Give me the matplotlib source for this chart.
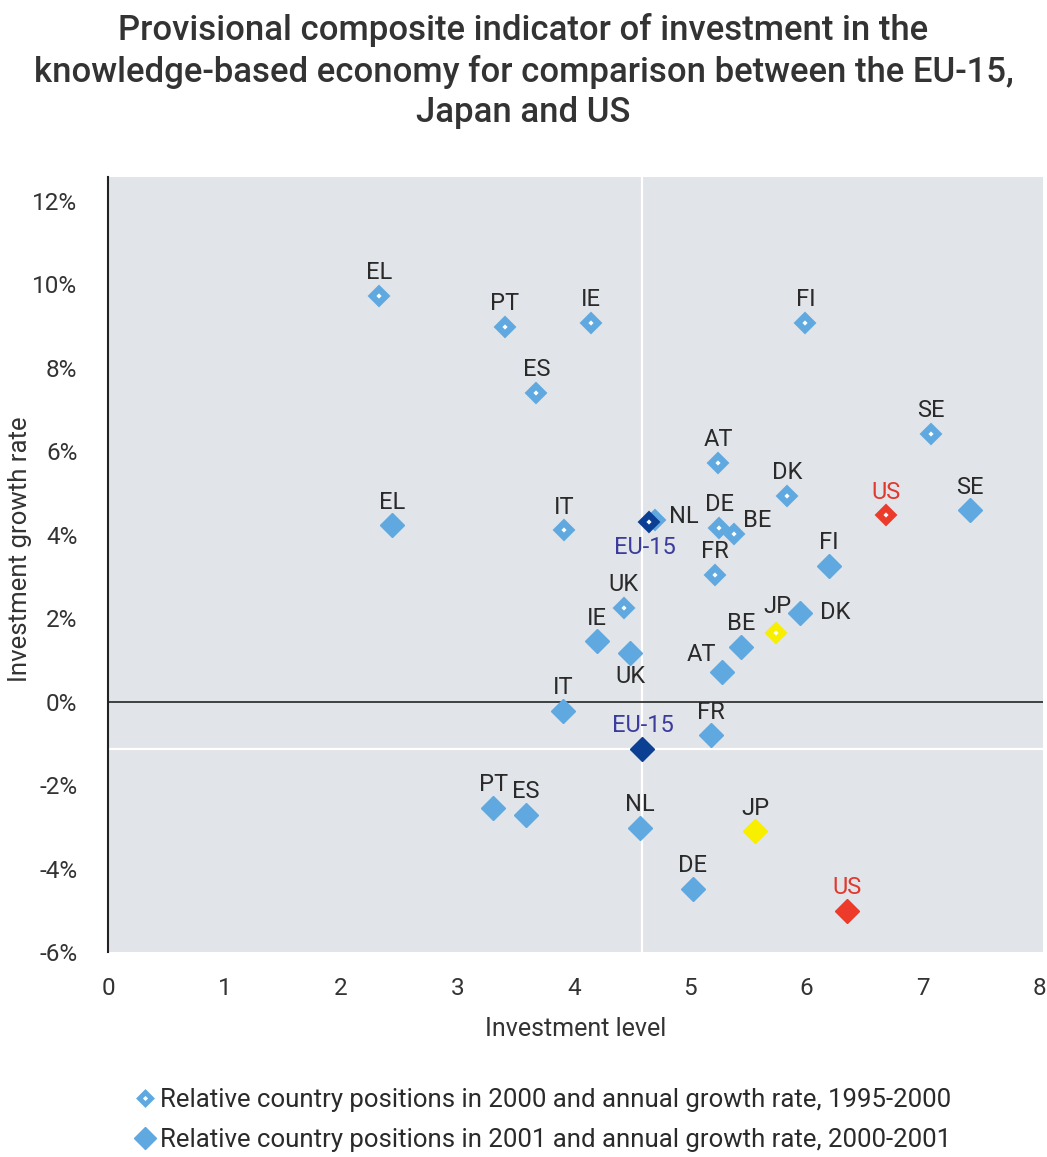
import matplotlib
matplotlib.use("Agg")
import matplotlib.pyplot as plt
from matplotlib.lines import Line2D
from matplotlib.ticker import PercentFormatter

plt.rcParams['font.family'] = ['Roboto', 'DejaVu Sans']
plt.rcParams['axes.unicode_minus'] = False

# Datos: posiciones 2000 (crecimiento 1995-2000)
countries_2000 = ["EL", "PT", "IE", "FI", "ES", "SE", "AT", "DK", "US", "IT",
                  "NL", "EU-15", "DE", "BE", "FR", "UK", "JP"]
level_2000 = [2.33, 3.41, 4.15, 5.99, 3.68, 7.07, 5.24, 5.83, 6.68, 3.92,
              4.70, 4.65, 5.25, 5.38, 5.21, 4.43, 5.74]
growth_2000 = [9.72, 8.98, 9.08, 9.08, 7.40, 6.42, 5.72, 4.93, 4.46, 4.10,
               4.36, 4.31, 4.17, 4.02, 3.04, 2.25, 1.65]

# Datos: posiciones 2001 (crecimiento 2000-2001)
countries_2001 = ["EL", "SE", "FI", "DK", "IE", "UK", "BE", "AT", "IT", "FR",
                  "EU-15", "PT", "ES", "NL", "JP", "DE", "US"]
level_2001 = [2.44, 7.40, 6.19, 5.94, 4.20, 4.48, 5.44, 5.27, 3.91, 5.18,
              4.59, 3.31, 3.59, 4.57, 5.56, 5.02, 6.35]
growth_2001 = [4.22, 4.60, 3.26, 2.13, 1.44, 1.17, 1.32, 0.72, -0.22, -0.81,
               -1.13, -2.54, -2.71, -3.02, -3.11, -4.48, -5.01]

LIGHT = "#5fa9e0"
colors = {"EU-15": "#0b3f94", "JP": "#f7ee00", "US": "#ec3b2b"}
text_colors = {"EU-15": "#3c3c9c", "US": "#e0392e"}

# desplazamientos de etiquetas (pixeles)
off_2000 = {"NL": (29, 3), "EU-15": (-5, -26), "BE": (23, 13), "JP": (1, 26)}
off_2001 = {"DK": (36, 0), "UK": (1, -24), "AT": (-20, 17), "SE": (0, 22)}

fig = plt.figure(figsize=(10.47, 11.57), dpi=100)
ax = fig.add_axes([108 / 1047, 1 - 952 / 1157, 935 / 1047, 775 / 1157])
ax.set_facecolor("#e1e4e8")
ax.set_xlim(0, 8.03)
ax.set_ylim(-6, 12.57)

# lineas de referencia en la posicion EU-15 2001
eu_idx = countries_2001.index("EU-15")
ax.axvline(level_2001[eu_idx], color="white", lw=1.6, zorder=1)
ax.axhline(growth_2001[eu_idx], color="white", lw=1.6, zorder=1)
ax.axhline(0, color="#333333", lw=1.3, zorder=1)

for c, x, y in zip(countries_2000, level_2000, growth_2000):
    col = colors.get(c, LIGHT)
    ax.plot(x, y, marker="D", ms=7.5, mew=4.5, mec=col, mfc="white", zorder=3)
    dx, dy = off_2000.get(c, (0, 23))
    ax.annotate(c, (x, y), xytext=(dx, dy), textcoords="offset pixels",
                ha="center", va="center", fontsize=17,
                color=text_colors.get(c, "#2a2a2a"), zorder=4)

for c, x, y in zip(countries_2001, level_2001, growth_2001):
    col = colors.get(c, LIGHT)
    ax.plot(x, y, marker="D", ms=12.5, mew=1, mec=col, mfc=col, zorder=3)
    dx, dy = off_2001.get(c, (0, 23))
    ax.annotate(c, (x, y), xytext=(dx, dy), textcoords="offset pixels",
                ha="center", va="center", fontsize=17,
                color=text_colors.get(c, "#2a2a2a"), zorder=4)

ax.set_yticks(range(-6, 13, 2))
ax.yaxis.set_major_formatter(PercentFormatter(decimals=0))
ax.set_xticks(range(0, 9))
ax.tick_params(length=0, labelsize=17.5, labelcolor="#333333", pad=18)
ax.tick_params(axis="y", pad=22)
for s in ["top", "right", "bottom"]:
    ax.spines[s].set_visible(False)
ax.spines["left"].set_color("#222222")
ax.spines["left"].set_linewidth(1.5)

ax.set_xlabel("Investment level", fontsize=18, color="#333333", labelpad=12)
ax.set_ylabel("Investment growth rate", fontsize=18.5, color="#333333")
ax.yaxis.set_label_coords(-(108 - 32) / 935, 0.52)

fig.text(0.5, 1 - 71 / 1157,
         "Provisional composite indicator of investment in the\n"
         "knowledge-based economy for comparison between the EU-15,\n"
         "Japan and US",
         ha="center", va="center", fontsize=25, color="#333333",
         fontweight="medium", linespacing=1.27)

handles = [
    Line2D([], [], ls="none", marker="D", ms=6.5, mew=3.5, mec=LIGHT, mfc="white"),
    Line2D([], [], ls="none", marker="D", ms=11, mew=1, mec=LIGHT, mfc=LIGHT),
]
labels = ["Relative country positions in 2000 and annual growth rate, 1995-2000",
          "Relative country positions in 2001 and annual growth rate, 2000-2001"]
fig.legend(handles, labels, loc="center left",
           bbox_to_anchor=(112 / 1047, 1 - 1120 / 1157), frameon=False,
           fontsize=18.5, handlelength=0.8, handletextpad=0.15, labelspacing=0.6,
           labelcolor="#2a2a2a")

fig.savefig("out.png", dpi=100)
